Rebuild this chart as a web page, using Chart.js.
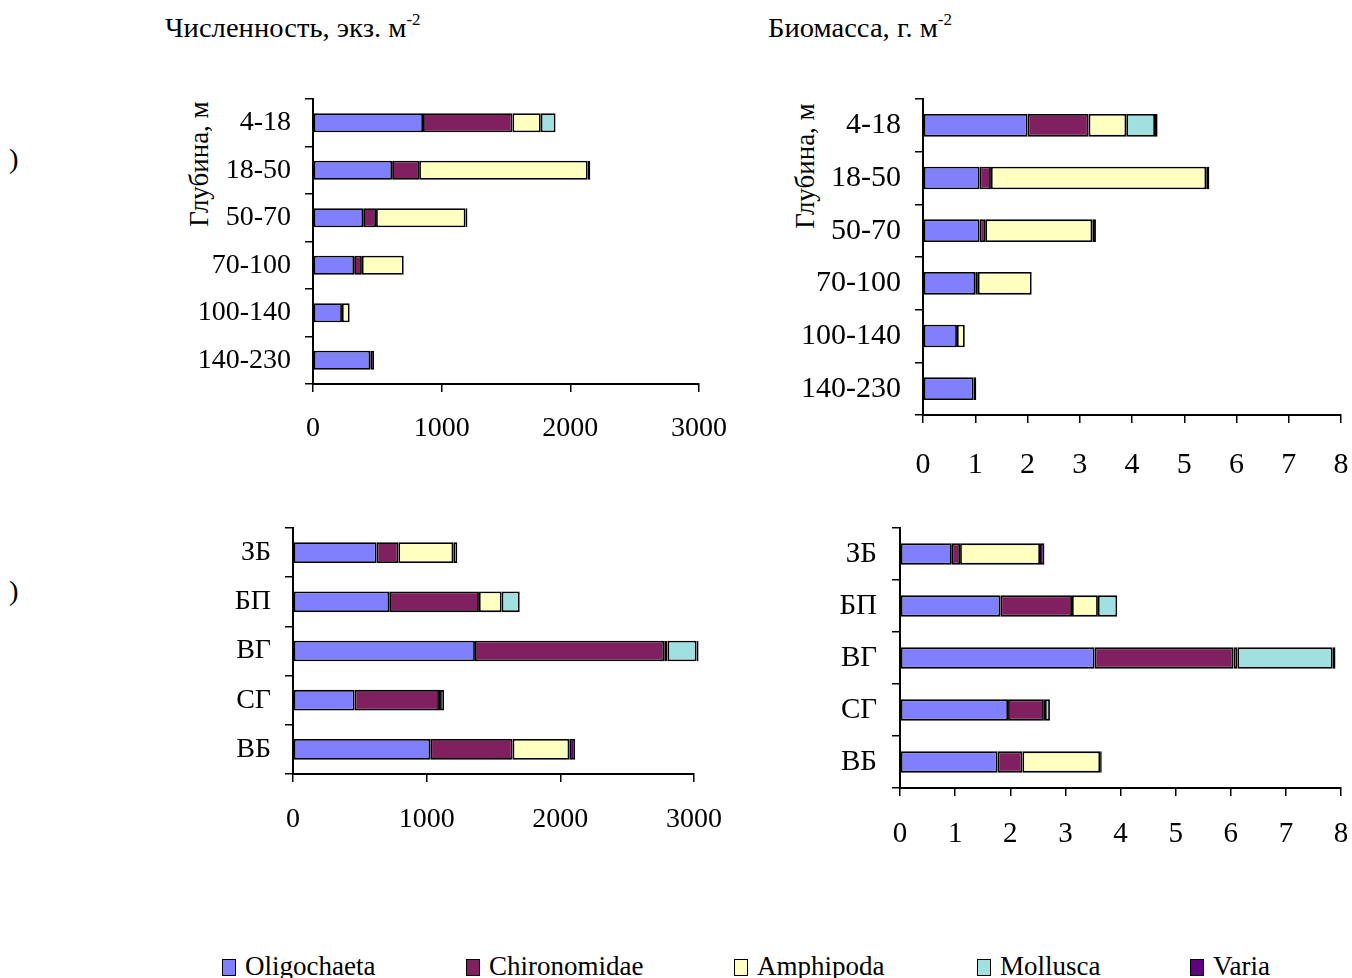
<!DOCTYPE html>
<html>
<head>
<meta charset="utf-8">
<script src="https://cdn.jsdelivr.net/npm/chart.js@4"></script>
<style>
  body { margin: 0; background: #fff; font-family: 'Liberation Serif', 'Times New Roman', serif; color: #000; }
  #page { position: relative; width: 1352px; height: 978px; overflow: hidden; }
  canvas { position: absolute; }
  .txt { position: absolute; white-space: nowrap; font-size: 27px; line-height: 1; transform: scaleX(1.06); transform-origin: 0 0; }
  .txt sup { font-size: 16px; vertical-align: 12px; }
  .ytitle { position: absolute; white-space: nowrap; font-size: 27px; line-height: 1; transform: translate(-50%, -50%) rotate(-90deg); }
  .leg { position: absolute; top: 953px; font-size: 27px; line-height: 1; white-space: nowrap; }
  .leg i { display: inline-block; width: 12px; height: 15px; border: 1.5px solid #000; margin-right: 9px; vertical-align: -1px; }
</style>
</head>
<body>
<div id="page">
  <div class="txt" style="left:165px;top:12px;">Численность, экз. м<sup>-2</sup></div>
  <div class="txt" style="left:768px;top:12px;">Биомасса, г. м<sup>-2</sup></div>
  <div class="txt" style="left:9px;top:146px;">)</div>
  <div class="txt" style="left:9px;top:578px;">)</div>
  <div class="ytitle" style="left:199px;top:164px;">Глубина, м</div>
  <div class="ytitle" style="left:805px;top:166px;">Глубина, м</div>

  <canvas id="c1" style="left:150px;top:90px;" width="600" height="360"></canvas>
  <canvas id="c2" style="left:760px;top:90px;" width="592" height="400"></canvas>
  <canvas id="c3" style="left:150px;top:515px;" width="600" height="340"></canvas>
  <canvas id="c4" style="left:760px;top:515px;" width="592" height="345"></canvas>

  <div id="legend"></div>
</div>
<script>
const groups = ['Oligochaeta', 'Chironomidae', 'Amphipoda', 'Mollusca', 'Varia'];
const colors = ['#8080FF', '#802060', '#FFFFC0', '#A0E0E0', '#600080'];

const depths = ['4-18', '18-50', '50-70', '70-100', '100-140', '140-230'];
const regions = ['ЗБ', 'БП', 'ВГ', 'СГ', 'ВБ'];

// численность по глубинам, экз./м2
const depthNumOligo = [855, 615, 390, 320, 225, 445];
const depthNumChiro = [695, 210, 100, 60, 0, 0];
const depthNumAmph = [220, 1310, 695, 325, 60, 0];
const depthNumMoll = [115, 0, 0, 0, 0, 0];
const depthNumVaria = [0, 20, 15, 0, 0, 30];

// биомасса по глубинам, г/м2
const depthBioOligo = [2.0, 1.08, 1.08, 1.0, 0.65, 0.97];
const depthBioChiro = [1.17, 0.22, 0.11, 0.05, 0, 0];
const depthBioAmph = [0.72, 4.12, 2.05, 1.03, 0.15, 0];
const depthBioMoll = [0.55, 0, 0, 0, 0, 0];
const depthBioVaria = [0.05, 0.06, 0.07, 0, 0, 0.05];

// численность по районам
const regNumOligo = [626, 720, 1361, 461, 1027];
const regNumChiro = [162, 671, 1416, 631, 616];
const regNumAmph = [411, 170, 25, 8, 424];
const regNumMoll = [30, 135, 217, 30, 0];
const regNumVaria = [0, 0, 15, 0, 44];

// биомасса по районам
const regBioOligo = [0.94, 1.82, 3.53, 1.96, 1.77];
const regBioChiro = [0.15, 1.30, 2.52, 0.65, 0.45];
const regBioAmph = [1.45, 0.47, 0.07, 0.02, 1.41];
const regBioMoll = [0, 0.35, 1.73, 0.09, 0];
const regBioVaria = [0.08, 0, 0.05, 0, 0.03];

const legendEl = document.getElementById('legend');
const legX = [222, 466, 734, 977, 1190];
groups.forEach((g, i) => {
    const d = document.createElement('div');
    d.className = 'leg';
    d.style.left = legX[i] + 'px';
    const box = document.createElement('i');
    box.style.background = colors[i];
    d.append(box, g);
    legendEl.append(d);
});

// chart.js adds label padding around the area, we place the area by hand
function noPad(s) {
    s.paddingTop = 0;
    s.paddingBottom = 0;
    s.paddingLeft = 0;
    s.paddingRight = 0;
}

function makeChart(id, labels, series, max, step, g) {
    const ctx = document.getElementById(id).getContext('2d');
    // eslint-disable-next-line no-undef
    return new Chart(ctx, {
        type: 'bar',
        data: {
            labels: labels,
            datasets: series.map((vals, i) => ({
                label: groups[i],
                data: vals,
                backgroundColor: colors[i],
                borderColor: '#000',
                borderWidth: 1.8,
                borderSkipped: false,
                barPercentage: g.bar,
                categoryPercentage: 1,
                clip: false
            }))
        },
        options: {
            indexAxis: 'y',
            responsive: false,
            animation: false,
            layout: { padding: { left: 0, top: g.top, right: g.right, bottom: 0 } },
            plugins: { legend: { display: false }, tooltip: { enabled: false } },
            scales: {
                x: {
                    stacked: true,
                    min: 0,
                    max: max,
                    afterFit: (s) => { s.height = g.xh; noPad(s); },
                    ticks: { stepSize: step, color: '#000', padding: g.xpad, maxRotation: 0,
                        callback: (v) => String(v),
                        font: { family: 'Liberation Serif', size: g.font } },
                    grid: { drawOnChartArea: false, drawTicks: true, tickLength: 8, color: '#000', lineWidth: 1.5 },
                    border: { color: '#000', width: 2 }
                },
                y: {
                    stacked: true,
                    afterFit: (s) => { s.width = g.yw; noPad(s); },
                    ticks: { color: '#000', padding: g.ypad,
                        font: { family: 'Liberation Serif', size: g.font } },
                    grid: { drawOnChartArea: false, drawTicks: true, tickLength: 8, color: '#000', lineWidth: 1.5 },
                    border: { color: '#000', width: 2 }
                }
            }
        }
    });
}

makeChart('c1', depths,
    [depthNumOligo, depthNumChiro, depthNumAmph, depthNumMoll, depthNumVaria], 3000, 1000,
    { top: 9, right: 51, xh: 66, yw: 163, xpad: 20, ypad: 14, font: 28, bar: 0.4 });

makeChart('c2', depths,
    [depthBioOligo, depthBioChiro, depthBioAmph, depthBioMoll, depthBioVaria], 8, 1,
    { top: 9, right: 11, xh: 75, yw: 163, xpad: 24, ypad: 14, font: 30, bar: 0.43 });

makeChart('c3', regions,
    [regNumOligo, regNumChiro, regNumAmph, regNumMoll, regNumVaria], 3000, 1000,
    { top: 13, right: 56, xh: 81, yw: 143, xpad: 21, ypad: 14, font: 28, bar: 0.42 });

makeChart('c4', regions,
    [regBioOligo, regBioChiro, regBioAmph, regBioMoll, regBioVaria], 8, 1,
    { top: 13, right: 11, xh: 72, yw: 140, xpad: 21, ypad: 15, font: 29, bar: 0.41 });
</script>
</body>
</html>
